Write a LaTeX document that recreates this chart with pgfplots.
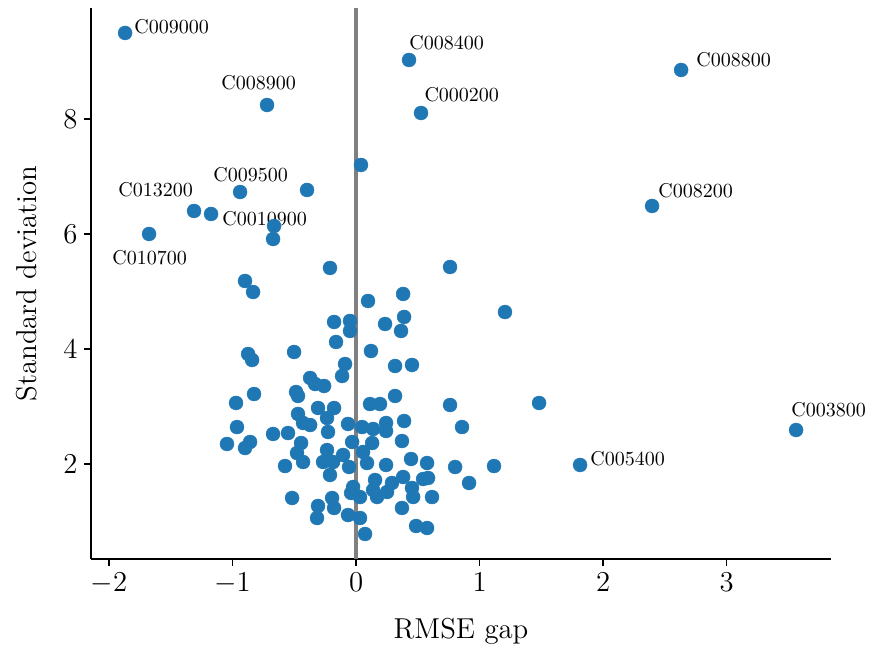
\documentclass[border=0pt]{standalone}
\usepackage{pgfplots}
\pgfplotsset{compat=1.18}
\definecolor{mplblue}{HTML}{1F77B4}
\begin{document}
\begin{tikzpicture}
\begin{axis}[
 scale only axis, width=370pt, height=275.5pt,
 xmin=-2.146, xmax=3.846, ymin=0.348, ymax=9.93,
 axis x line*=bottom, axis y line*=left,
 axis line style={line width=1pt,-},
 xtick={-2,-1,0,1,2,3}, ytick={2,4,6,8},
 tick align=outside, major tick length=3.3pt, tick style={line width=0.9pt, black},
 ticklabel style={font=\Large},
 xlabel={RMSE gap}, ylabel={Standard deviation},
 label style={font=\Large},
 xlabel style={at={(rel axis cs:0.5,-0.1434)}, anchor=base},
 ylabel style={at={(rel axis cs:-0.0743,0.5)}, anchor=base},
 clip=false,
]
\path (rel axis cs:-0.123,-0.176) rectangle (rel axis cs:1.054,1.0145);
\addplot[only marks, mark=*, color=mplblue, mark size=3.5pt, mark options={solid, fill=mplblue, draw=mplblue, line width=0.2pt}] table {
x y
-1.870 9.496
0.429 9.026
2.632 8.852
-0.721 8.243
0.526 8.104
0.040 7.200
-0.939 6.730
-0.397 6.765
2.397 6.487
-1.312 6.400
-1.174 6.348
-0.664 6.139
-0.672 5.913
-1.676 6.000
-0.211 5.409
0.761 5.426
-0.899 5.183
-0.834 4.991
0.381 4.957
0.097 4.835
1.206 4.643
0.389 4.557
-0.178 4.470
-0.049 4.487
0.235 4.435
-0.049 4.313
0.364 4.313
-0.162 4.122
0.121 3.965
-0.502 3.948
-0.874 3.913
-0.842 3.809
0.316 3.704
0.453 3.722
-0.089 3.739
-0.113 3.530
-0.372 3.496
-0.332 3.391
-0.259 3.357
-0.826 3.217
-0.486 3.252
-0.470 3.183
0.316 3.183
1.482 3.061
0.761 3.026
0.113 3.043
0.194 3.043
-0.972 3.061
-0.308 2.974
-0.178 2.974
-0.470 2.870
-0.429 2.713
-0.372 2.678
-0.235 2.800
-0.227 2.557
-0.065 2.696
0.049 2.643
-0.964 2.643
-1.045 2.348
-0.899 2.278
-0.858 2.383
-0.672 2.522
-0.551 2.539
-0.445 2.365
-0.478 2.191
-0.429 2.035
-0.575 1.965
-0.235 2.243
-0.105 2.157
-0.032 2.383
-0.267 2.035
-0.186 2.035
-0.211 1.809
-0.057 1.948
0.057 2.209
0.130 2.365
0.089 2.017
-0.024 1.600
-0.040 1.496
0.032 1.426
0.138 1.548
-0.518 1.409
-0.308 1.270
-0.194 1.409
-0.178 1.235
-0.316 1.061
-0.065 1.113
0.032 1.061
0.073 0.783
0.858 2.643
0.389 2.748
0.243 2.713
0.243 2.574
0.138 2.609
0.372 2.400
0.445 2.087
0.575 2.017
0.802 1.948
1.117 1.965
0.915 1.670
0.243 1.983
0.381 1.774
0.543 1.739
0.583 1.757
0.291 1.670
0.154 1.722
0.453 1.583
0.462 1.426
0.615 1.426
0.251 1.513
0.170 1.426
0.372 1.235
0.486 0.922
0.575 0.887
1.814 1.983
3.563 2.591
};
\addplot[no marks, color={rgb,255:red,128;green,128;blue,128}, line width=1.6pt] coordinates {(0,0.348) (0,9.93)};
\node[anchor=west, inner sep=0pt] at (axis cs:-1.798,9.600) {C009000};
\node[anchor=west, inner sep=0pt] at (axis cs:0.429,9.322) {C008400};
\node[anchor=west, inner sep=0pt] at (axis cs:2.753,9.026) {C008800};
\node[anchor=west, inner sep=0pt] at (axis cs:-1.093,8.626) {C008900};
\node[anchor=west, inner sep=0pt] at (axis cs:0.551,8.417) {C000200};
\node[anchor=west, inner sep=0pt] at (axis cs:-1.158,7.026) {C009500};
\node[anchor=west, inner sep=0pt] at (axis cs:2.445,6.748) {C008200};
\node[anchor=west, inner sep=0pt] at (axis cs:-1.927,6.765) {C013200};
\node[anchor=west, inner sep=0pt] at (axis cs:-1.085,6.261) {C0010900};
\node[anchor=west, inner sep=0pt] at (axis cs:-1.976,5.583) {C010700};
\node[anchor=west, inner sep=0pt] at (axis cs:1.895,2.087) {C005400};
\node[anchor=west, inner sep=0pt] at (axis cs:3.522,2.939) {C003800};
\end{axis}
\end{tikzpicture}
\end{document}
